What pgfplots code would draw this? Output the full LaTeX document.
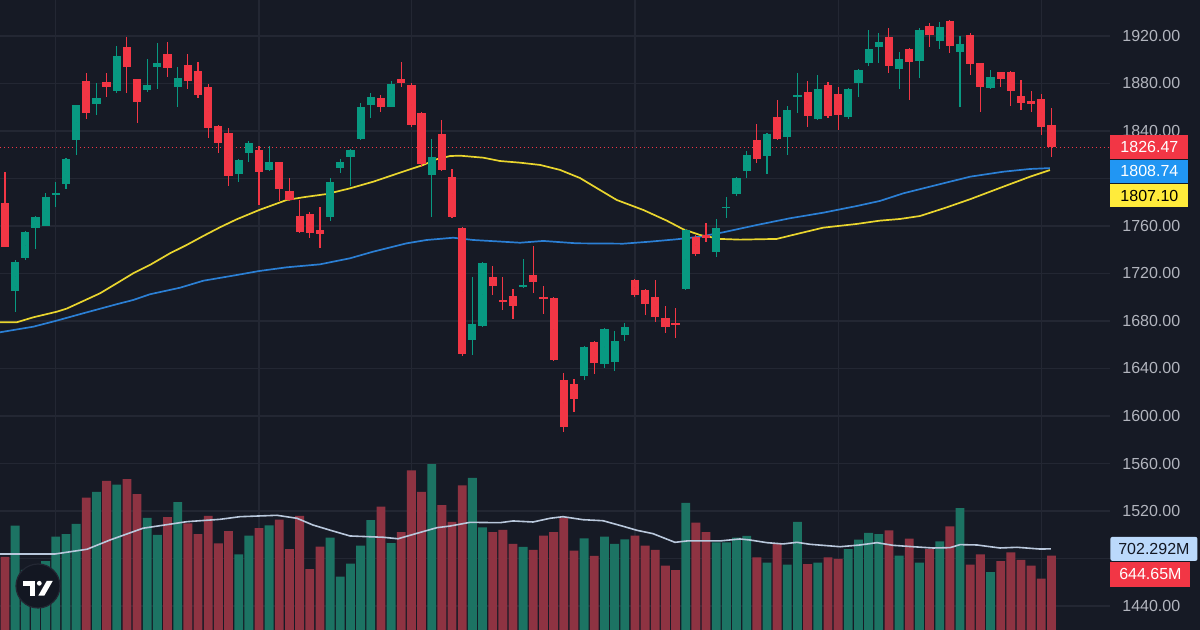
\documentclass[border=0pt]{standalone}
\usepackage{pgfplots}
\pgfplotsset{compat=1.18}
\usepackage{pgfplotstable}
\usepackage{fontspec}
\setmainfont{Liberation Sans}
\definecolor{bg}{HTML}{161A25}
\definecolor{gridc}{HTML}{232733}
\definecolor{upc}{HTML}{089981}
\definecolor{dnc}{HTML}{F23645}
\definecolor{vup}{HTML}{1C7363}
\definecolor{vdn}{HTML}{8E3342}
\definecolor{ma1}{HTML}{E9D52E}
\definecolor{ma2}{HTML}{2B7FD4}
\definecolor{vma}{HTML}{B9C8DC}
\definecolor{tickc}{HTML}{B2B5BE}
\definecolor{bluebox}{HTML}{2196F3}
\definecolor{yelbox}{HTML}{FFEB3B}
\definecolor{vmabox}{HTML}{BBD9FB}
\definecolor{darktxt}{HTML}{131722}
\newcommand{\lbl}{\fontsize{8}{9}\selectfont}

\pgfplotstableread{
i O H L C V
1 1705.5 1731.0 1687.9 1730.0 903
2 1732.8 1755.5 1731.0 1755.0 520
3 1758.0 1768.0 1740.4 1767.3 540
4 1760.3 1787.5 1760.0 1784.7 597
5 1786.4 1797.0 1775.7 1788.0 808
6 1795.0 1817.2 1790.9 1816.1 831
7 1832.1 1862.0 1819.5 1861.6 918
9 1862.7 1880.7 1853.2 1867.8 1195
11 1873.4 1911.6 1872.0 1903.1 1258
14 1874.5 1900.9 1873.0 1878.7 970
15 1894.2 1913.8 1875.0 1897.3 823
17 1876.8 1894.2 1860.0 1884.9 1106
23 1803.8 1816.0 1797.3 1815.6 655
24 1821.8 1831.9 1813.6 1829.6 816
26 1807.2 1827.4 1806.0 1813.6 906
32 1767.9 1800.1 1764.2 1797.3 799
33 1808.6 1816.0 1804.3 1814.2 461
34 1817.8 1825.0 1793.7 1824.0 574
35 1833.5 1863.3 1832.0 1860.5 730
36 1861.9 1872.0 1850.7 1868.6 952
38 1860.5 1882.0 1860.0 1879.6 753
42 1802.9 1833.0 1767.3 1818.4 1437
46 1664.0 1717.3 1651.4 1677.2 1316
47 1675.8 1729.5 1675.0 1728.6 889
51 1708.9 1731.9 1708.0 1710.0 719
57 1634.0 1659.0 1630.3 1658.4 794
59 1643.8 1674.0 1640.7 1673.0 808
60 1645.8 1671.6 1638.2 1663.2 745
61 1668.5 1678.0 1663.4 1674.7 785
67 1706.7 1757.5 1706.0 1756.6 1100
70 1737.8 1765.6 1734.2 1758.6 759
71 1775.4 1784.7 1766.4 1776.4 759
72 1786.7 1801.5 1785.0 1800.1 799
73 1806.3 1823.4 1800.1 1820.1 814
75 1818.9 1838.5 1803.5 1837.2 583
77 1834.7 1861.0 1819.8 1857.7 565
78 1868.3 1889.1 1855.4 1870.0 935
80 1849.8 1887.4 1849.0 1875.6 583
83 1852.1 1876.0 1849.8 1875.1 701
84 1880.7 1892.2 1868.9 1891.4 782
85 1897.0 1925.0 1895.0 1908.8 840
86 1910.4 1922.2 1897.0 1915.2 831
88 1892.2 1906.2 1875.1 1900.6 643
90 1898.9 1927.0 1884.9 1925.0 583
92 1916.1 1932.1 1908.8 1927.3 768
94 1906.8 1920.0 1859.9 1913.2 1056
97 1875.9 1891.4 1875.0 1885.7 502
}\up

\pgfplotstableread{
i O H L C V
0 1779.1 1805.7 1742.0 1742.6 632
8 1882.1 1888.5 1850.1 1854.9 1145
10 1881.2 1888.5 1868.9 1876.8 1290
12 1910.4 1918.9 1871.7 1894.2 1307
13 1883.5 1884.0 1846.5 1864.4 1177
16 1904.8 1914.7 1885.7 1893.3 978
18 1895.6 1904.8 1875.0 1882.4 924
19 1890.8 1898.4 1867.5 1870.3 831
20 1876.8 1879.3 1833.8 1842.8 987
21 1844.5 1845.0 1821.8 1829.6 751
22 1838.3 1842.2 1793.7 1802.4 857
25 1824.0 1827.6 1777.7 1805.7 883
27 1813.6 1814.0 1781.3 1791.1 955
28 1789.5 1800.4 1781.0 1781.9 701
29 1768.4 1781.9 1754.0 1755.0 987
30 1770.0 1772.0 1749.6 1753.8 526
31 1756.6 1776.3 1741.2 1753.5 721
37 1868.0 1870.0 1856.3 1860.5 1068
39 1883.5 1898.0 1877.0 1880.0 848
40 1878.7 1880.0 1843.0 1845.1 1382
41 1854.9 1856.0 1810.0 1812.2 1195
43 1837.5 1849.3 1806.0 1807.2 1082
44 1801.0 1807.7 1767.0 1767.9 935
45 1758.0 1759.0 1650.5 1652.2 1253
48 1717.3 1726.3 1701.9 1709.5 848
49 1697.7 1717.3 1689.3 1696.3 866
50 1701.3 1706.9 1681.4 1692.9 745
52 1718.7 1743.2 1703.9 1713.1 693
53 1700.5 1709.5 1685.9 1698.5 816
54 1699.1 1700.0 1646.5 1647.2 848
55 1630.3 1636.5 1586.8 1591.0 972
56 1627.0 1630.9 1603.7 1614.3 687
58 1662.0 1663.0 1635.4 1644.4 641
62 1714.5 1715.7 1700.5 1701.9 816
63 1706.1 1707.0 1685.1 1694.3 730
64 1700.5 1714.5 1679.4 1683.7 693
65 1682.5 1692.6 1669.6 1675.2 557
66 1678.0 1690.7 1666.0 1677.0 519
68 1751.0 1752.4 1735.0 1736.4 929
69 1752.4 1762.2 1746.8 1750.2 848
74 1832.4 1845.9 1812.8 1816.1 629
76 1851.5 1866.1 1832.0 1833.0 751
79 1873.1 1882.4 1843.6 1852.6 571
81 1878.7 1881.5 1851.0 1852.9 629
82 1870.9 1876.8 1840.8 1853.2 615
87 1918.9 1926.4 1888.5 1894.7 863
89 1908.8 1909.5 1866.1 1897.8 790
91 1928.4 1930.7 1910.4 1920.8 701
93 1932.9 1933.5 1905.4 1911.8 898
95 1920.5 1922.8 1887.1 1896.4 565
96 1897.0 1897.5 1856.3 1876.8 655
98 1889.4 1890.0 1876.8 1883.8 597
99 1889.9 1890.5 1861.0 1873.9 673
100 1869.5 1882.9 1857.7 1863.3 606
101 1865.0 1873.9 1856.3 1862.7 557
102 1867.2 1870.9 1836.6 1843.6 444
103 1845.0 1859.1 1817.8 1826.47 644.65
}\down

\pgfplotsset{base/.style={at={(0pt,0pt)}, anchor=south west, scale only axis,
  width=555pt, height=315pt, xmin=-0.492, xmax=108.76,
  axis line style={draw=none}, tick style={draw=none}, major tick length=0pt},
  candle/.style 2 args={only marks, mark=*, mark size=0pt, mark options={draw=none, fill=none},
  error bars/.cd, y dir=both, y explicit, error mark=none,
  error bar style={draw=#1, line width=#2}}}

\begin{document}
\begin{tikzpicture}
\useasboundingbox (0,0) rectangle (600pt,315pt);
\fill[bg] (0,0) rectangle (600pt,315pt);

% grid and price ticks
\begin{axis}[base, ymin=1419.8, ymax=1950.3,
  ytick={1440,1480,1520,1560,1600,1640,1680,1720,1760,1800,1840,1880,1920},
  yticklabels={1440.00,,1520.00,1560.00,1600.00,1640.00,1680.00,1720.00,1760.00,,1840.00,1880.00,1920.00},
  xtick={5,25,40,62,82,102}, xticklabels={},
  xmajorgrids, ymajorgrids, major grid style={draw=gridc, line width=0.6pt},
  yticklabel pos=right,
  yticklabel style={text=tickc, font=\lbl, anchor=west, inner sep=0pt, xshift=6pt}]
\addplot[draw=none] coordinates {(0,1500)};
\end{axis}

% volume
\begin{axis}[base, ymin=0, ymax=5454.5, xtick=\empty, ytick=\empty, clip=false]
\addplot[ybar, bar width=0.87, bar shift=0pt, fill=vup, draw=none] table[x=i, y=V] {\up};
\addplot[ybar, bar width=0.87, bar shift=0pt, fill=vdn, draw=none] table[x=i, y=V] {\down};
\addplot[vma, line width=0.8pt] coordinates {
(-0.49,658) (4.92,658) (8.07,699) (10.33,779) (13.58,881) (17.91,938) (21.16,958) (23.13,981)
(26.77,993) (28.74,967) (30.31,909) (32.28,857) (33.96,814) (37.2,803) (38.68,790) (40.55,837)
(42.52,886) (43.8,900) (45.77,932) (48.72,929) (50,944) (51.97,935) (53.64,967) (54.92,981)
(56.89,955) (58.86,946) (60.83,898) (62.2,863) (63.78,834) (65.94,759) (67.13,771) (70.37,771)
(72.34,788) (73.33,779) (75,756) (76.57,745) (77.95,759) (79.23,742) (82.19,721) (84.15,736)
(85.83,756) (87.4,733) (89.37,721) (91.34,710) (93.01,713) (94,739) (95.67,736) (97.93,710)
(99.61,716) (101.87,701) (102.95,702.292)};
\node[anchor=west, fill=vmabox, text=darktxt, font=\lbl, inner sep=0pt,
  minimum width=43.5pt, minimum height=12pt, rounded corners=1pt] (vm) at (axis cs:108.76,702.292) {702.292M};
\node[anchor=north west, fill=dnc, text=white, font=\lbl, inner sep=0pt,
  minimum width=40pt, minimum height=12.5pt] at (vm.south west) {644.65M};
\end{axis}

% price
\begin{axis}[base, ymin=1419.8, ymax=1950.3, xtick=\empty, ytick=\empty, clip=false]
\addplot[dnc, line width=0.5pt, dash pattern=on 0.6pt off 1.4pt] coordinates {(-0.492,1826.47) (108.76,1826.47)};
\addplot[ma2, line width=0.85pt] coordinates {
(-0.49,1670.5) (2.79,1675.2) (5.09,1680.3) (7.71,1686.5) (10.99,1694.1) (12.63,1697.7) (14.27,1702.5)
(17.22,1708.0) (19.52,1713.9) (22.8,1718.7) (25.03,1722.1) (27.73,1725.2) (31.0,1727.7) (33.96,1732.8)
(36.25,1738.4) (39.54,1745.4) (41.5,1748.2) (44.12,1750.1) (46.09,1748.2) (50.69,1745.9) (52.98,1747.4)
(56.27,1745.4) (60.86,1745.1) (63.48,1746.8) (66.11,1748.8) (68.41,1751.0) (70.7,1754.7) (73.99,1760.8)
(77.26,1766.5) (80.54,1771.2) (83.83,1776.8) (86.12,1781.1) (88.42,1787.5) (91.7,1794.5) (94.98,1801.5)
(98.26,1805.7) (100.89,1808.0) (102.85,1808.74)};
\addplot[ma1, line width=0.85pt] coordinates {
(-0.49,1678.9) (1.15,1678.9) (2.79,1683.1) (5.09,1687.8) (6.07,1690.4) (9.35,1703.3) (10.99,1711.7)
(12.63,1720.2) (14.27,1727.2) (16.24,1737.0) (17.88,1744.0) (19.52,1751.6) (21.16,1758.9) (22.8,1765.6)
(25.03,1773.5) (27.73,1781.9) (29.36,1784.2) (31.66,1786.9) (33.96,1791.7) (36.25,1797.3) (38.88,1804.9)
(41.17,1811.4) (42.49,1816.2) (43.8,1818.9) (44.78,1819.2) (47.08,1817.5) (48.72,1814.7) (50.69,1813.3)
(52.66,1811.4) (54.63,1807.2) (56.59,1800.4) (58.56,1790.3) (60.21,1781.9) (62.82,1773.5) (65.13,1764.5)
(66.76,1757.2) (68.41,1752.4) (70.37,1749.1) (72.34,1748.5) (75.95,1749.1) (78.25,1753.9) (80.54,1758.6)
(83.83,1761.7) (86.12,1764.5) (88.09,1765.9) (90.06,1768.4) (92.52,1775.2) (94.98,1782.5) (98.26,1793.1)
(100.89,1801.5) (102.85,1807.1)};
% wicks
\addplot[candle={upc}{0.55pt}]
  table[x=i, y expr={(\thisrow{H}+\thisrow{L})/2}, y error expr={(\thisrow{H}-\thisrow{L})/2}] {\up};
\addplot[candle={dnc}{0.55pt}]
  table[x=i, y expr={(\thisrow{H}+\thisrow{L})/2}, y error expr={(\thisrow{H}-\thisrow{L})/2}] {\down};
% bodies
\addplot[candle={upc}{4.1pt}]
  table[x=i, y expr={(\thisrow{O}+\thisrow{C})/2}, y error expr={abs(\thisrow{C}-\thisrow{O})/2}] {\up};
\addplot[candle={dnc}{4.1pt}]
  table[x=i, y expr={(\thisrow{O}+\thisrow{C})/2}, y error expr={abs(\thisrow{C}-\thisrow{O})/2}] {\down};
% last value labels
\node[anchor=west, fill=dnc, text=white, font=\lbl, inner sep=0pt,
  minimum width=39pt, minimum height=11.75pt] (lp) at (axis cs:108.76,1826.47) {1826.47};
\node[anchor=north west, fill=bluebox, text=white, font=\lbl, inner sep=0pt,
  minimum width=39pt, minimum height=11.75pt] (lb) at (lp.south west) {1808.74};
\node[anchor=north west, fill=yelbox, text=black, font=\lbl, inner sep=0pt,
  minimum width=39pt, minimum height=11.75pt] at (lb.south west) {1807.10};
\end{axis}

% logo
\fill[darktxt, draw=gridc, line width=0.6pt] (19pt,22pt) circle (11pt);
\fill[white] (11.35pt,24.5pt) rectangle (17.65pt,22.15pt);
\fill[white] (15pt,24.5pt) rectangle (17.65pt,17.15pt);
\fill[white] (19.65pt,23.35pt) circle (1.2pt);
\fill[white] (23.35pt,24.5pt) -- (26.35pt,24.5pt) -- (22.15pt,17.15pt) -- (19.15pt,17.15pt) -- cycle;
\end{tikzpicture}
\end{document}
